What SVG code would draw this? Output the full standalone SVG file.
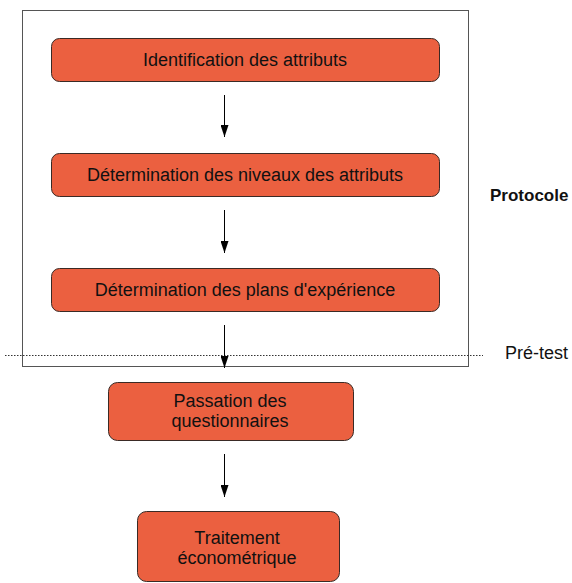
<svg xmlns="http://www.w3.org/2000/svg" width="572" height="583" viewBox="0 0 572 583">
<style>
.node rect{fill:#EB6040;stroke:#3a2a25;stroke-width:1}
.node text{font-family:"Liberation Sans",Arial,sans-serif;font-size:18px;fill:#111;text-anchor:middle}
.lbl{font-family:"Liberation Sans",Arial,sans-serif;font-size:18px;fill:#111}
.conn line{stroke:#000;stroke-width:1;marker-end:url(#ah)}
</style>
<defs>
<marker id="ah" markerWidth="12" markerHeight="8" refX="12" refY="4" orient="auto" markerUnits="userSpaceOnUse" viewBox="0 0 12 8">
<path d="M0,0 L12,4 L0,8 Z" fill="#000"/>
</marker>
</defs>
<rect width="572" height="583" fill="#fff"/>
<rect id="protocole-frame" x="22.5" y="10.5" width="446" height="356" fill="none" stroke="#555" stroke-width="1"/>
<line x1="5" y1="355.5" x2="483" y2="355.5" stroke="#333" stroke-width="1" stroke-dasharray="1.5,1.5"/>
<text class="lbl" x="490" y="201" font-weight="bold" style="font-size:17px">Protocole</text>
<text class="lbl" x="505" y="359">Pré-test</text>
<g id="n1" class="node"><rect x="51.5" y="38.5" width="388" height="43" rx="8"/><text x="245" y="66">Identification des attributs</text></g>
<g id="n2" class="node"><rect x="51.5" y="153.5" width="388" height="43" rx="8"/><text x="245" y="181">Détermination des niveaux des attributs</text></g>
<g id="n3" class="node"><rect x="51.5" y="268.5" width="388" height="43" rx="8"/><text x="245" y="296">Détermination des plans d'expérience</text></g>
<g id="n4" class="node"><rect x="108.5" y="382.5" width="245" height="58" rx="9"/><text x="230" y="407">Passation des</text><text x="230" y="427">questionnaires</text></g>
<g id="n5" class="node"><rect x="137.5" y="511.5" width="202" height="70" rx="9"/><text x="237" y="544">Traitement</text><text x="237" y="564">économétrique</text></g>
<g id="connectors" class="conn">
<line x1="224.5" y1="95" x2="224.5" y2="137"/>
<line x1="224.5" y1="210" x2="224.5" y2="253"/>
<line x1="224.5" y1="325" x2="224.5" y2="368"/>
<line x1="224.5" y1="454" x2="224.5" y2="497"/>
</g>
</svg>
